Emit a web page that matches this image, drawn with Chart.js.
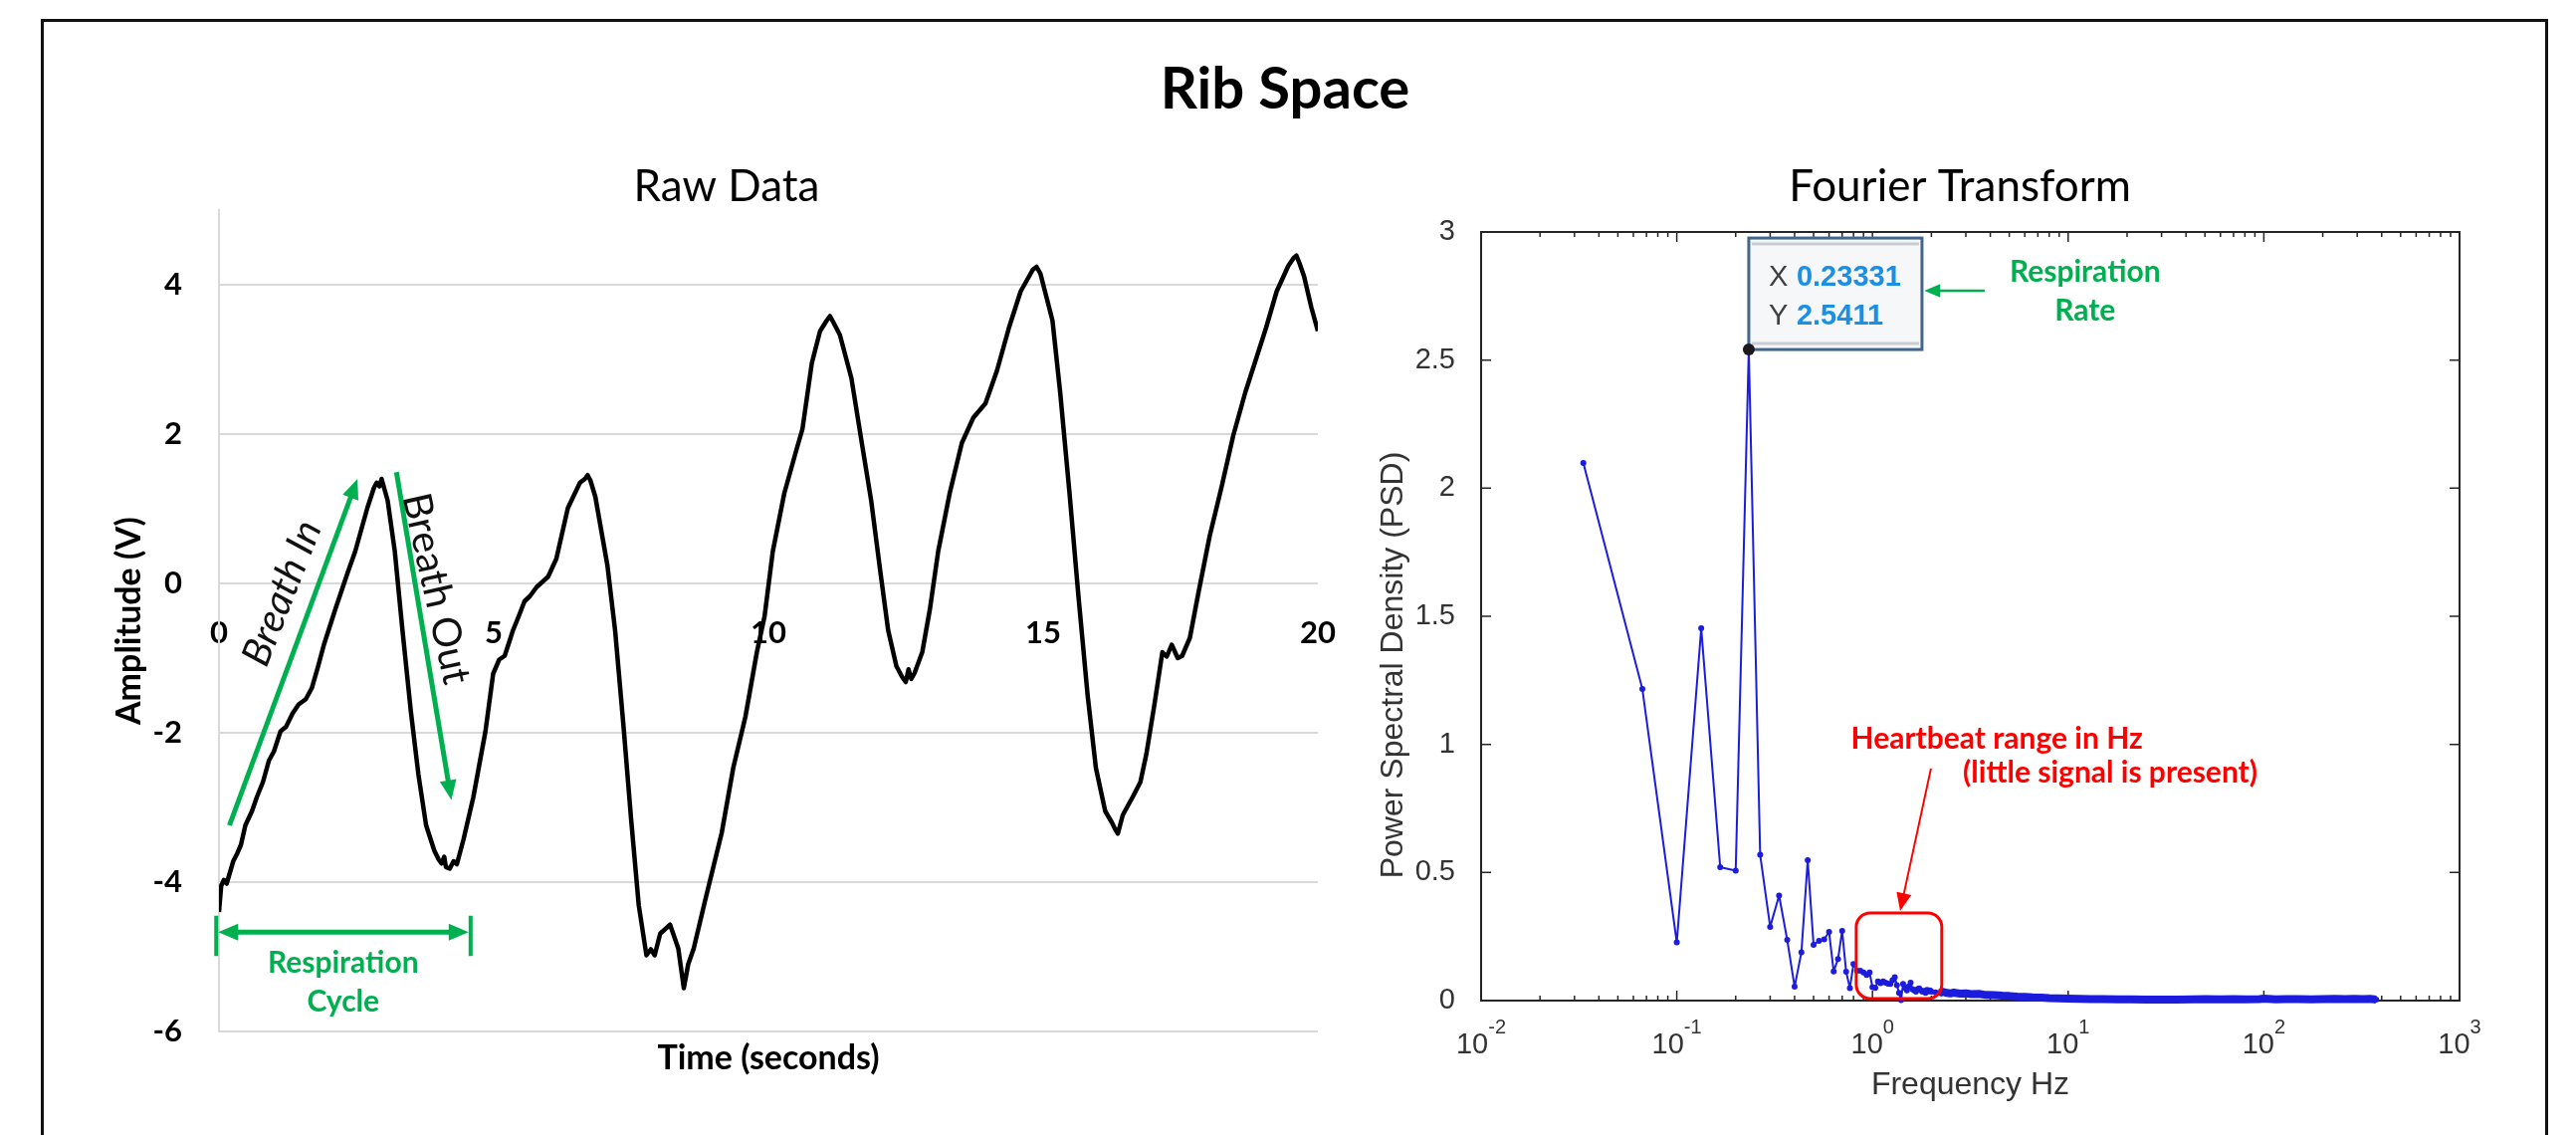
<!DOCTYPE html>
<html>
<head>
<meta charset="utf-8">
<title>Rib Space</title>
<script src="https://cdn.jsdelivr.net/npm/chart.js@4.4.1/dist/chart.umd.min.js"></script>
<style>
  html, body { margin: 0; padding: 0; background: #fff; }
  body { width: 2588px; height: 1140px; position: relative; overflow: hidden; }
  #frame { position: absolute; left: 41px; top: 19px; width: 2519px; height: 1200px; border: 3px solid #111; border-bottom: none; box-sizing: border-box; }
  #mainTitle { position: absolute; left: 0; width: 2582px; top: 58px; text-align: center; font-family: Lato, sans-serif; font-weight: bold; font-size: 58px; line-height: 58px; color: #000; }
  canvas { position: absolute; }
  #rawChart { left: 90px; top: 140px; }
  #fftChart { left: 1365px; top: 140px; }
</style>
</head>
<body>
<div id="frame"></div>
<div id="mainTitle">Rib Space</div>
<canvas id="rawChart" width="1280" height="980"></canvas>
<canvas id="fftChart" width="1208" height="980"></canvas>
<script>
// raw sensor trace (seconds, volts)
const rawTime = [0, 0.04, 0.09, 0.14, 0.26, 0.33, 0.40, 0.48, 0.60, 0.69,
  0.80, 0.91, 1.00, 1.12, 1.22, 1.34, 1.45, 1.58, 1.69, 1.80,
  1.91, 2.12, 2.34, 2.48, 2.70, 2.82, 2.87, 2.92, 2.96, 3.07,
  3.20, 3.34, 3.49, 3.63, 3.77, 3.92, 4.00, 4.05, 4.10, 4.13,
  4.20, 4.27, 4.33, 4.45, 4.63, 4.85, 4.99, 5.10, 5.20, 5.35,
  5.45, 5.56, 5.66, 5.78, 5.99, 6.14, 6.35, 6.57, 6.66, 6.71,
  6.76, 6.85, 7.07, 7.21, 7.36, 7.50, 7.64, 7.78, 7.86, 7.93,
  8.03, 8.21, 8.36, 8.46, 8.54, 8.64, 8.86, 9.15, 9.36, 9.58,
  9.79, 9.93, 10.08, 10.29, 10.51, 10.62, 10.79, 10.94, 11.06, 11.12,
  11.18, 11.30, 11.51, 11.70, 11.87, 12.04, 12.18, 12.33, 12.44, 12.50,
  12.55, 12.60, 12.66, 12.80, 12.94, 13.09, 13.30, 13.52, 13.73, 13.95,
  14.16, 14.38, 14.59, 14.75, 14.81, 14.88, 14.95, 15.17, 15.31, 15.48,
  15.64, 15.81, 15.96, 16.13, 16.25, 16.31, 16.36, 16.45, 16.63, 16.77,
  16.88, 17.03, 17.17, 17.25, 17.34, 17.45, 17.53, 17.67, 17.82, 18.03,
  18.25, 18.46, 18.68, 18.89, 19.06, 19.25, 19.46, 19.56, 19.61, 19.66,
  19.75, 19.88, 20.0];
const rawAmp = [-4.40, -4.05, -3.97, -4.02, -3.72, -3.62, -3.50, -3.24, -3.05, -2.86,
  -2.66, -2.37, -2.25, -1.98, -1.92, -1.74, -1.62, -1.55, -1.40, -1.12,
  -0.82, -0.34, 0.14, 0.43, 1.01, 1.28, 1.35, 1.30, 1.40, 1.11,
  0.43, -0.63, -1.70, -2.56, -3.24, -3.58, -3.70, -3.75, -3.66, -3.80,
  -3.82, -3.72, -3.76, -3.43, -2.86, -1.98, -1.21, -1.02, -0.97, -0.63,
  -0.45, -0.24, -0.17, -0.05, 0.09, 0.33, 1.01, 1.35, 1.40, 1.45,
  1.38, 1.16, 0.24, -0.63, -1.89, -3.15, -4.31, -4.98, -4.90, -4.98,
  -4.69, -4.57, -4.89, -5.42, -5.10, -4.89, -4.21, -3.34, -2.47, -1.79,
  -0.92, -0.44, 0.43, 1.21, 1.79, 2.07, 2.95, 3.38, 3.52, 3.58,
  3.50, 3.33, 2.75, 1.88, 1.11, 0.14, -0.63, -1.11, -1.26, -1.32,
  -1.15, -1.28, -1.20, -0.92, -0.34, 0.43, 1.21, 1.88, 2.22, 2.41,
  2.85, 3.43, 3.91, 4.12, 4.20, 4.24, 4.15, 3.52, 2.56, 1.21,
  -0.15, -1.50, -2.47, -3.05, -3.20, -3.29, -3.35, -3.10, -2.86, -2.66,
  -2.28, -1.60, -0.92, -0.98, -0.82, -1.00, -0.97, -0.73, -0.15, 0.63,
  1.30, 1.98, 2.56, 3.04, 3.43, 3.91, 4.25, 4.36, 4.39, 4.30,
  4.11, 3.70, 3.38];

// Fourier transform of the trace (Hz, PSD)
const fftFreq = [0.0333, 0.0667, 0.1, 0.1333, 0.1667, 0.2, 0.23331, 0.2667, 0.3, 0.3333, 0.3667, 0.4, 0.4333, 0.4667,
  0.5, 0.5333, 0.5667, 0.6, 0.6333, 0.6667, 0.7, 0.7333, 0.7667, 0.8, 0.8333, 0.8667, 0.9, 0.9333, 0.9667, 1.0,
  1.0333, 1.0667, 1.1, 1.1333, 1.1667, 1.2, 1.2333, 1.2667, 1.3, 1.3333, 1.3667, 1.4, 1.4333, 1.4667, 1.5, 1.5333,
  1.5667, 1.6, 1.6333, 1.6667, 1.7, 1.7333, 1.7667, 1.8, 1.8333, 1.8667, 1.9, 1.9333, 1.9667, 2.0,
  2.1, 2.2, 2.3, 2.4, 2.5, 2.6, 2.8, 3.0, 3.2, 3.5, 3.8, 4.2, 4.6, 5.0, 5.5, 6.0, 6.6, 7.3, 8.0, 9.0, 10,
  11.5, 13, 15, 18, 21, 25, 30, 36, 43, 50, 60, 70, 80, 95, 100, 115, 130, 150, 175, 200, 230, 260, 290, 320, 350, 375];
const fftPsd = [2.098, 1.216, 0.227, 1.453, 0.521, 0.507, 2.5411, 0.569, 0.288, 0.41, 0.237, 0.054, 0.188, 0.548,
  0.218, 0.233, 0.239, 0.268, 0.114, 0.162, 0.272, 0.113, 0.049, 0.143, 0.117, 0.117, 0.11, 0.10, 0.11, 0.052,
  0.05, 0.075, 0.068, 0.075, 0.07, 0.066, 0.065, 0.08, 0.091, 0.06, 0.03, 0.002, 0.065, 0.05, 0.04, 0.055,
  0.07, 0.045, 0.04, 0.035, 0.045, 0.048, 0.04, 0.035, 0.038, 0.03, 0.042, 0.036, 0.04, 0.035,
  0.032, 0.03, 0.034, 0.03, 0.028, 0.031, 0.027, 0.028, 0.025, 0.026, 0.022, 0.021, 0.019, 0.018, 0.016, 0.015, 0.013, 0.012, 0.01, 0.009, 0.008,
  0.007, 0.006, 0.006, 0.005, 0.005, 0.004, 0.004, 0.004, 0.005, 0.006, 0.005, 0.006, 0.005, 0.006, 0.008, 0.005, 0.006, 0.006, 0.005, 0.006, 0.007, 0.006, 0.007, 0.006, 0.007, 0.004];
const fftDecades = [-2, -1, 0, 1, 2, 3];

const GREEN = '#00b050';
const RED = '#ff0000';
const FFT_BLUE = '#1c1cdc';

function arrowHead(ctx, x, y, a, len) {
  const w = len * 0.42;
  ctx.beginPath();
  ctx.moveTo(x, y);
  ctx.lineTo(x - len * Math.cos(a) + w * Math.sin(a), y - len * Math.sin(a) - w * Math.cos(a));
  ctx.lineTo(x - len * Math.cos(a) - w * Math.sin(a), y - len * Math.sin(a) + w * Math.cos(a));
  ctx.closePath();
  ctx.fill();
}

function drawArrow(ctx, x1, y1, x2, y2, color, width, head, both) {
  const a = Math.atan2(y2 - y1, x2 - x1);
  ctx.save();
  ctx.strokeStyle = color;
  ctx.fillStyle = color;
  ctx.lineWidth = width;
  const sx = both ? x1 + Math.cos(a) * head * 0.8 : x1;
  const sy = both ? y1 + Math.sin(a) * head * 0.8 : y1;
  ctx.beginPath();
  ctx.moveTo(sx, sy);
  ctx.lineTo(x2 - Math.cos(a) * head * 0.8, y2 - Math.sin(a) * head * 0.8);
  ctx.stroke();
  arrowHead(ctx, x2, y2, a, head);
  if (both) arrowHead(ctx, x1, y1, a + Math.PI, head);
  ctx.restore();
}

function putText(ctx, txt, x, y, deg, font, color) {
  ctx.save();
  ctx.translate(x, y);
  ctx.rotate(deg * Math.PI / 180);
  ctx.font = font;
  ctx.fillStyle = color;
  ctx.textAlign = 'center';
  ctx.textBaseline = 'middle';
  ctx.fillText(txt, 0, 0);
  ctx.restore();
}

// green notes on the raw trace
const rawNotes = {
  id: 'rawNotes',
  afterDatasetsDraw(chart) {
    const { ctx, scales: { x, y } } = chart;
    const px = t => x.getPixelForValue(t), py = v => y.getPixelForValue(v);
    drawArrow(ctx, px(0.19), py(-3.24), px(2.52), py(1.40), GREEN, 5, 20, false);
    drawArrow(ctx, px(3.23), py(1.49), px(4.23), py(-2.90), GREEN, 5, 20, false);
    putText(ctx, 'Breath In', px(1.15), py(-0.13), -68.5, 'italic 40px Lato', '#111');
    putText(ctx, 'Breath Out', px(3.95), py(-0.07), 77.5, '40px Lato', '#111');

    const cy = py(-4.67), c0 = px(-0.05), c1 = px(4.58);
    drawArrow(ctx, c0 + 2, cy, c1 - 2, cy, GREEN, 5, 20, true);
    ctx.save();
    ctx.strokeStyle = GREEN;
    ctx.lineWidth = 4;
    ctx.beginPath();
    ctx.moveTo(c0, py(-4.45)); ctx.lineTo(c0, py(-4.99));
    ctx.moveTo(c1, py(-4.45)); ctx.lineTo(c1, py(-4.99));
    ctx.stroke();
    ctx.restore();
    putText(ctx, 'Respiration', px(2.26), py(-5.08), 0, 'bold 30px Lato', GREEN);
    putText(ctx, 'Cycle', px(2.26), py(-5.61), 0, 'bold 30px Lato', GREEN);
  }
};

// matlab style box, inward ticks, 10^n labels and the notes
const fftFrame = {
  id: 'fftFrame',
  beforeDatasetsDraw(chart) {
    const { ctx, chartArea: a, scales: { x, y } } = chart;
    ctx.save();
    ctx.strokeStyle = '#262626';
    ctx.lineWidth = 2;
    ctx.strokeRect(a.left, a.top, a.right - a.left, a.bottom - a.top);
    ctx.lineWidth = 1.5;
    ctx.beginPath();
    y.ticks.forEach(t => {
      const p = y.getPixelForValue(t.value);
      ctx.moveTo(a.left, p); ctx.lineTo(a.left + 10, p);
      ctx.moveTo(a.right, p); ctx.lineTo(a.right - 10, p);
    });
    fftDecades.forEach((e, i) => {
      const p = x.getPixelForValue(Math.pow(10, e));
      ctx.moveTo(p, a.bottom); ctx.lineTo(p, a.bottom - 10);
      ctx.moveTo(p, a.top); ctx.lineTo(p, a.top + 10);
      if (i < fftDecades.length - 1) {
        for (let m = 2; m < 10; m++) {
          const q = x.getPixelForValue(m * Math.pow(10, e));
          ctx.moveTo(q, a.bottom); ctx.lineTo(q, a.bottom - 5);
          ctx.moveTo(q, a.top); ctx.lineTo(q, a.top + 5);
        }
      }
    });
    ctx.stroke();

    ctx.fillStyle = '#333';
    ctx.textAlign = 'left';
    ctx.textBaseline = 'alphabetic';
    fftDecades.forEach(e => {
      const p = x.getPixelForValue(Math.pow(10, e));
      ctx.font = '29px "Liberation Sans"';
      const wb = ctx.measureText('10').width;
      ctx.font = '20px "Liberation Sans"';
      const we = ctx.measureText(String(e)).width;
      const left = p - (wb + we) / 2;
      ctx.font = '29px "Liberation Sans"';
      ctx.fillText('10', left, a.bottom + 53);
      ctx.font = '20px "Liberation Sans"';
      ctx.fillText(String(e), left + wb, a.bottom + 33);
    });
    ctx.restore();
    putText(ctx, 'Power Spectral Density (PSD)', 35, 528, -90, '32px "Liberation Sans"', '#333');
  },
  afterDatasetsDraw(chart) {
    const { ctx, scales: { x, y } } = chart;
    const px = f => x.getPixelForValue(f), py = v => y.getPixelForValue(v);

    // data tip on the respiration peak
    const i = fftPsd.indexOf(Math.max(...fftPsd));
    const tx = px(fftFreq[i]), ty = py(fftPsd[i]);
    const bw = 174, bh = 112;
    ctx.save();
    ctx.fillStyle = '#f6f7f9';
    ctx.fillRect(tx, ty - bh, bw, bh);
    ctx.strokeStyle = '#c9ccd1';
    ctx.lineWidth = 3;
    ctx.beginPath();
    ctx.moveTo(tx + 3, ty - bh + 6); ctx.lineTo(tx + bw - 3, ty - bh + 6);
    ctx.moveTo(tx + 3, ty - 6); ctx.lineTo(tx + bw - 3, ty - 6);
    ctx.stroke();
    ctx.strokeStyle = '#41678f';
    ctx.strokeRect(tx, ty - bh, bw, bh);
    ctx.textAlign = 'left';
    ctx.textBaseline = 'alphabetic';
    ctx.font = '29px "Liberation Sans"';
    ctx.fillStyle = '#404040';
    ctx.fillText('X', tx + 20, ty - bh + 48);
    ctx.fillText('Y', tx + 20, ty - bh + 87);
    ctx.font = 'bold 29px "Liberation Sans"';
    ctx.fillStyle = '#1b8fe3';
    ctx.fillText(String(fftFreq[i]), tx + 48, ty - bh + 48);
    ctx.fillText(String(fftPsd[i]), tx + 48, ty - bh + 87);
    ctx.beginPath();
    ctx.arc(tx, ty, 6, 0, Math.PI * 2);
    ctx.fillStyle = '#1a1a1a';
    ctx.fill();
    ctx.restore();

    drawArrow(ctx, px(3.75), py(2.771), px(1.84), py(2.771), GREEN, 2.5, 16, false);
    putText(ctx, 'Respiration', px(12.2), py(2.845), 0, 'bold 30px Lato', GREEN);
    putText(ctx, 'Rate', px(12.2), py(2.69), 0, 'bold 30px Lato', GREEN);

    // heartbeat window
    const l = px(0.826), r = px(2.26), t = py(0.342), b = py(0.008), rad = 14;
    ctx.save();
    ctx.strokeStyle = RED;
    ctx.lineWidth = 3;
    ctx.beginPath();
    ctx.moveTo(l + rad, t);
    ctx.arcTo(r, t, r, b, rad);
    ctx.arcTo(r, b, l, b, rad);
    ctx.arcTo(l, b, l, t, rad);
    ctx.arcTo(l, t, r, t, rad);
    ctx.closePath();
    ctx.stroke();
    ctx.restore();
    drawArrow(ctx, px(1.99), py(0.906), px(1.385), py(0.35), RED, 2, 18, false);
    putText(ctx, 'Heartbeat range in Hz', px(4.32), py(1.022), 0, 'bold 30px Lato', RED);
    putText(ctx, '(little signal is present)', px(16.4), py(0.89), 0, 'bold 30px Lato', RED);
  }
};

new Chart(document.getElementById('rawChart'), {
  type: 'line',
  data: {
    datasets: [{
      data: rawTime.map((t, i) => ({ x: t, y: rawAmp[i] })),
      borderColor: '#000',
      borderWidth: 4.5,
      borderJoinStyle: 'round',
      pointRadius: 0,
      tension: 0
    }]
  },
  options: {
    responsive: false,
    animation: false,
    devicePixelRatio: 1,
    plugins: {
      legend: { display: false },
      tooltip: { enabled: false },
      title: {
        display: true, text: 'Raw Data', color: '#000',
        font: { family: 'Lato', size: 44, weight: 'normal', lineHeight: 1 },
        padding: { top: 26, bottom: 1 }
      }
    },
    scales: {
      x: {
        type: 'linear', position: { y: 0 }, min: 0, max: 20,
        grid: { display: false }, border: { display: false },
        ticks: { stepSize: 5, padding: 23, maxRotation: 0, color: '#000', font: { family: 'Lato', size: 31, weight: 'bold' } }
      },
      xt: {
        type: 'linear', position: 'bottom', min: 0, max: 20,
        grid: { display: false }, border: { display: false }, ticks: { display: false },
        title: { display: true, text: 'Time (seconds)', color: '#000', font: { family: 'Lato', size: 34, weight: 'bold' }, padding: { top: 0, bottom: 36.6 } },
        afterFit: s => { s.height = 84; }
      },
      y: {
        min: -6, max: 5,
        afterBuildTicks: s => { s.ticks = s.ticks.filter(t => t.value !== 5); },
        grid: { color: '#d9d9d9', lineWidth: 2, drawTicks: false },
        border: { color: '#d9d9d9', width: 2 },
        ticks: { stepSize: 2, padding: 37, color: '#000', font: { family: 'Lato', size: 31, weight: 'bold' } },
        title: { display: true, text: 'Amplitude (V)', color: '#000', font: { family: 'Lato', size: 34, weight: 'bold' }, padding: { top: 19.6, bottom: 0 } },
        afterFit: s => { s.width = 130; }
      },
      yr: {
        position: 'right', min: 0, max: 1,
        grid: { display: false }, border: { display: false }, ticks: { display: false },
        afterFit: s => { s.width = 46; }
      }
    }
  },
  plugins: [rawNotes]
});

new Chart(document.getElementById('fftChart'), {
  type: 'line',
  data: {
    datasets: [{
      data: fftFreq.map((f, i) => ({ x: f, y: fftPsd[i] })),
      borderColor: FFT_BLUE,
      backgroundColor: FFT_BLUE,
      borderWidth: 2,
      borderJoinStyle: 'round',
      pointRadius: 3,
      pointBorderWidth: 0,
      pointBackgroundColor: FFT_BLUE,
      tension: 0,
      clip: 14,
      segment: { borderWidth: c => (c.p0.parsed.x >= 2.2 ? 8 : 2) }
    }]
  },
  options: {
    responsive: false,
    animation: false,
    devicePixelRatio: 1,
    plugins: {
      legend: { display: false },
      tooltip: { enabled: false },
      title: {
        display: true, text: 'Fourier Transform', color: '#000',
        font: { family: 'Lato', size: 44, weight: 'normal', lineHeight: 1 },
        padding: { top: 26, bottom: 23 }
      }
    },
    scales: {
      x: {
        type: 'logarithmic', position: 'bottom', min: 0.01, max: 1000,
        grid: { display: false }, border: { display: false }, ticks: { display: false },
        title: { display: true, text: 'Frequency Hz', color: '#333', font: { family: 'Liberation Sans', size: 32 }, padding: { top: 0, bottom: 10.8 } },
        afterFit: s => { s.height = 115; }
      },
      y: {
        min: 0, max: 3,
        grid: { display: false }, border: { display: false },
        ticks: { stepSize: 0.5, padding: 18, color: '#333', font: { family: 'Liberation Sans', size: 29 }, callback: v => String(v) },
        afterFit: s => { s.width = 123; }
      },
      yr: {
        position: 'right', min: 0, max: 1,
        grid: { display: false }, border: { display: false }, ticks: { display: false },
        afterFit: s => { s.width = 102; }
      }
    }
  },
  plugins: [fftFrame]
});
</script>
</body>
</html>
